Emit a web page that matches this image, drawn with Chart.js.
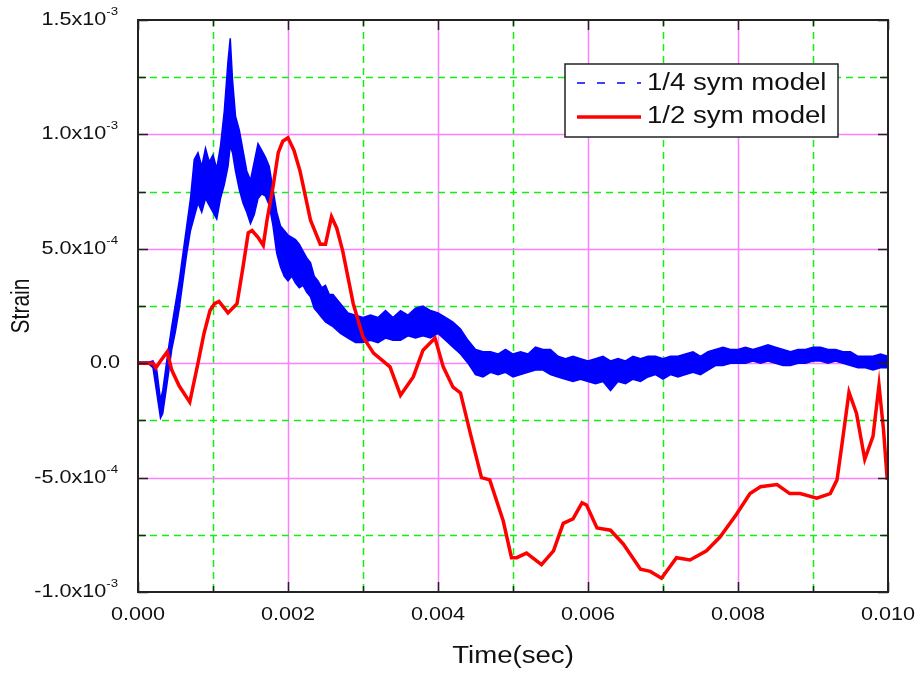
<!DOCTYPE html>
<html lang="en">
<head>
<meta charset="UTF-8" />
<title>Strain vs time</title>
<script src="https://cdn.jsdelivr.net/npm/chart.js"></script>
<style>
  html, body { margin: 0; padding: 0; background: #fff; }
  canvas { display: block; }
</style>
</head>
<body>
<canvas id="strainChart" width="917" height="676"></canvas>
<script>
// time in ms, strain in units of 1e-4
const MS = 1e-3;
const UNIT = 1e-4;

// 1/4 sym model: very noisy trace, kept as upper / lower edge of the band
const quarterTime = [0, 0.15, 0.20, 0.25, 0.30, 0.33, 0.40, 0.45, 0.50, 0.55, 0.60, 0.65, 0.70, 0.75, 0.80, 0.85, 0.90, 0.95, 1.00, 1.05,
  1.10, 1.15, 1.20, 1.23, 1.26, 1.30, 1.35, 1.40, 1.45, 1.50, 1.55, 1.60, 1.65, 1.70, 1.75, 1.80, 1.85, 1.90, 1.95, 2.00,
  2.05, 2.10, 2.15, 2.20, 2.25, 2.30, 2.35, 2.40, 2.45, 2.50, 2.55, 2.60, 2.70, 2.80, 2.90, 3.00, 3.10, 3.20, 3.30, 3.40,
  3.50, 3.60, 3.70, 3.80, 3.90, 4.00, 4.10, 4.20, 4.30, 4.40, 4.50, 4.60, 4.70, 4.80, 4.90, 5.00, 5.10, 5.20, 5.30, 5.40,
  5.50, 5.60, 5.70, 5.80, 5.90, 6.00, 6.10, 6.20, 6.30, 6.40, 6.50, 6.60, 6.70, 6.80, 6.90, 7.00, 7.10, 7.20, 7.30, 7.40,
  7.50, 7.60, 7.70, 7.80, 7.90, 8.00, 8.10, 8.20, 8.30, 8.40, 8.50, 8.60, 8.70, 8.80, 8.90, 9.00, 9.10, 9.20, 9.30, 9.40,
  9.50, 9.60, 9.70, 9.80, 9.90, 10.0];
const quarterHigh = [0.05, 0.05, 0.1, -0.3, -1.6, -1.2, 0.5, 1.6, 2.6, 3.6, 4.8, 6.0, 7.2, 8.9, 9.2, 8.6, 9.4, 8.8, 9.1, 8.5,
  9.5, 11.0, 13.2, 14.2, 12.4, 10.8, 10.2, 9.3, 8.4, 8.0, 8.8, 9.6, 9.3, 9.0, 8.6, 7.6, 6.6, 6.0, 5.8, 5.6,
  5.5, 5.4, 5.2, 4.9, 4.6, 4.4, 3.8, 3.6, 3.3, 3.4, 3.0, 3.0, 2.6, 2.2, 2.1, 2.0, 2.1, 2.0, 2.3, 2.0,
  2.3, 2.1, 2.4, 2.5, 2.3, 2.2, 2.0, 1.8, 1.5, 1.0, 0.6, 0.5, 0.5, 0.4, 0.6, 0.4, 0.5, 0.4, 0.7, 0.6,
  0.6, 0.3, 0.2, 0.3, 0.2, 0.1, 0.2, 0.3, 0.1, 0.2, 0.1, 0.3, 0.2, 0.3, 0.3, 0.2, 0.3, 0.3, 0.4, 0.5,
  0.3, 0.5, 0.6, 0.7, 0.6, 0.6, 0.7, 0.6, 0.7, 0.8, 0.7, 0.6, 0.5, 0.6, 0.6, 0.7, 0.7, 0.6, 0.6, 0.5,
  0.5, 0.3, 0.3, 0.3, 0.4, 0.3];
const quarterLow = [-0.05, -0.05, -0.2, -1.3, -2.4, -2.2, -0.6, 0.6, 1.4, 2.4, 3.6, 4.8, 5.8, 6.4, 7.0, 6.6, 7.2, 6.9, 6.6, 6.3,
  7.2, 7.8, 8.6, 9.5, 9.2, 8.4, 7.6, 7.0, 6.6, 6.1, 6.5, 7.2, 7.4, 7.3, 6.9, 6.0, 4.8, 4.2, 3.8, 3.6,
  3.8, 3.5, 3.3, 3.4, 3.1, 2.9, 2.4, 2.2, 2.0, 1.8, 1.7, 1.6, 1.3, 1.1, 0.9, 0.9, 1.0, 0.9, 1.1, 1.0,
  1.0, 1.2, 1.1, 1.2, 1.1, 1.3, 1.0, 0.7, 0.4, 0.0, -0.5, -0.6, -0.4, -0.5, -0.4, -0.6, -0.5, -0.4, -0.3, -0.3,
  -0.5, -0.6, -0.7, -0.8, -0.7, -0.8, -0.9, -0.8, -1.2, -0.8, -0.9, -0.7, -0.8, -0.6, -0.5, -0.7, -0.5, -0.6, -0.5, -0.4,
  -0.5, -0.3, -0.1, -0.1, 0.0, 0.0, 0.0, 0.1, 0.0, 0.1, 0.0, -0.1, -0.1, 0.0, 0.0, 0.1, 0.1, 0.0, 0.1, 0.0,
  -0.1, -0.2, -0.2, -0.3, -0.2, -0.2];

// 1/2 sym model
const halfTime = [0, 0.20, 0.24, 0.30, 0.39, 0.45, 0.55, 0.69, 0.80, 0.88, 0.96, 1.02, 1.08, 1.20, 1.32, 1.40, 1.47, 1.52, 1.60, 1.67,
  1.72, 1.80, 1.87, 1.93, 2.00, 2.08, 2.16, 2.30, 2.43, 2.50, 2.58, 2.65, 2.73, 2.87, 3.00, 3.14, 3.36, 3.50, 3.67, 3.80,
  3.96, 4.07, 4.20, 4.30, 4.43, 4.58, 4.69, 4.87, 4.98, 5.05, 5.18, 5.38, 5.54, 5.67, 5.80, 5.92, 5.98, 6.12, 6.30, 6.47,
  6.70, 6.83, 6.98, 7.18, 7.36, 7.58, 7.76, 7.98, 8.16, 8.30, 8.52, 8.69, 8.83, 9.05, 9.23, 9.32, 9.38, 9.48, 9.58, 9.69,
  9.80, 9.88, 9.94, 9.99];
const halfStrain = [0, 0, -0.2, 0.1, 0.5, -0.3, -1.0, -1.7, 0.0, 1.3, 2.3, 2.6, 2.7, 2.2, 2.6, 4.2, 5.7, 5.8, 5.5, 5.15,
  6.25, 7.7, 9.2, 9.7, 9.85, 9.3, 8.4, 6.25, 5.2, 5.2, 6.4, 5.9, 4.9, 2.6, 1.15, 0.44, -0.16, -1.4, -0.6, 0.57,
  1.1, -0.16, -1.05, -1.3, -3.06, -5.0, -5.1, -6.9, -8.5, -8.5, -8.3, -8.8, -8.2, -7.0, -6.8, -6.1, -6.2, -7.2, -7.3, -7.9,
  -9.0, -9.1, -9.4, -8.5, -8.6, -8.2, -7.6, -6.6, -5.7, -5.4, -5.3, -5.7, -5.7, -5.9, -5.7, -5.1, -3.7, -1.27, -2.2, -4.2,
  -3.2, -0.96, -2.9, -5.1];

// axis labels
const xTickValues = [0, 0.002, 0.004, 0.006, 0.008, 0.010];
const xTickLabels = ['0.000', '0.002', '0.004', '0.006', '0.008', '0.010'];
const yTickValues = [1.5e-3, 1.0e-3, 5.0e-4, 0, -5.0e-4, -1.0e-3];
const yTickBase = ['1.5x10', '1.0x10', '5.0x10', '0.0', '-5.0x10', '-1.0x10'];
const yTickExp = ['-3', '-3', '-4', '', '-4', '-3'];
const seriesNames = ['1/4 sym model', '1/2 sym model'];

const toPoints = (ts, vs) => ts.map((t, i) => ({ x: t * MS, y: vs[i] * UNIT }));

const FONT = '"Liberation Sans", Arial, sans-serif';
const SX = 1.2; // original picture is a bit wider than tall

function wideText(ctx, text, x, y, size, align) {
  ctx.save();
  ctx.font = size + 'px ' + FONT;
  ctx.textAlign = align;
  ctx.textBaseline = 'middle';
  ctx.translate(x, y);
  ctx.scale(SX, 1);
  ctx.fillText(text, 0, 0);
  ctx.restore();
}

const gridPlugin = {
  id: 'gridPlugin',
  beforeDatasetsDraw(chart) {
    const { ctx, chartArea: a, scales: { x, y } } = chart;
    ctx.save();
    x.ticks.forEach(t => {
      if (t.value <= x.min + 1e-9 || t.value >= x.max - 1e-9) return;
      const major = Math.round(t.value / 0.001) % 2 === 0;
      const px = Math.round(x.getPixelForValue(t.value)) + 0.5;
      ctx.beginPath();
      ctx.lineWidth = 1.5;
      ctx.strokeStyle = major ? '#ff80ff' : '#11f011';
      ctx.setLineDash(major ? [] : [7, 5]);
      ctx.moveTo(px, a.top);
      ctx.lineTo(px, a.bottom);
      ctx.stroke();
    });
    y.ticks.forEach(t => {
      if (t.value <= y.min + 1e-9 || t.value >= y.max - 1e-9) return;
      const major = Math.round(t.value / 2.5e-4) % 2 === 0;
      const py = Math.round(y.getPixelForValue(t.value)) + 0.5;
      ctx.beginPath();
      ctx.lineWidth = 1.5;
      ctx.strokeStyle = major ? '#ff80ff' : '#11f011';
      ctx.setLineDash(major ? [] : [7, 5]);
      ctx.moveTo(a.left, py);
      ctx.lineTo(a.right, py);
      ctx.stroke();
    });
    ctx.restore();
  },
  afterDraw(chart) {
    const { ctx, chartArea: a, scales: { x, y } } = chart;
    ctx.save();
    ctx.strokeStyle = '#222';
    ctx.lineWidth = 1.5;
    ctx.setLineDash([]);
    // inward ticks on all four sides
    x.ticks.forEach(t => {
      const major = Math.round(t.value / 0.001) % 2 === 0;
      const len = major ? 10 : 6;
      const px = Math.round(x.getPixelForValue(t.value)) + 0.5;
      ctx.beginPath();
      ctx.moveTo(px, a.bottom); ctx.lineTo(px, a.bottom - len);
      ctx.moveTo(px, a.top); ctx.lineTo(px, a.top + len);
      ctx.stroke();
    });
    y.ticks.forEach(t => {
      const major = Math.round(t.value / 2.5e-4) % 2 === 0;
      const len = major ? 10 : 8;
      const py = Math.round(y.getPixelForValue(t.value)) + 0.5;
      ctx.beginPath();
      ctx.moveTo(a.left, py); ctx.lineTo(a.left + len, py);
      ctx.moveTo(a.right, py); ctx.lineTo(a.right - len, py);
      ctx.stroke();
    });
    // frame
    ctx.lineWidth = 2;
    ctx.strokeRect(a.left, a.top, a.right - a.left, a.bottom - a.top);

    // tick labels
    ctx.fillStyle = '#111';
    xTickValues.forEach((v, i) => {
      wideText(ctx, xTickLabels[i], x.getPixelForValue(v), a.bottom + 23, 18, 'center');
    });
    yTickValues.forEach((v, i) => {
      const py = y.getPixelForValue(v);
      if (!yTickExp[i]) {
        wideText(ctx, yTickBase[i], a.left - 18, py, 18, 'right');
        return;
      }
      ctx.font = '11px ' + FONT;
      const expW = ctx.measureText(yTickExp[i]).width * SX;
      const right = a.left - 20;
      wideText(ctx, yTickExp[i], right - expW, py - 8, 11, 'left');
      wideText(ctx, yTickBase[i], right - expW, py, 18, 'right');
    });

    // axis titles
    wideText(ctx, 'Time(sec)', (a.left + a.right) / 2, a.bottom + 65, 23, 'center');
    ctx.save();
    ctx.translate(22, (a.top + a.bottom) / 2);
    ctx.rotate(-Math.PI / 2);
    ctx.scale(1, SX);
    ctx.font = '21px ' + FONT;
    ctx.textAlign = 'center';
    ctx.textBaseline = 'middle';
    ctx.fillText('Strain', 0, 0);
    ctx.restore();

    // legend box
    const lx = 565, ly = 64, lw = 273, lh = 73;
    ctx.fillStyle = '#fff';
    ctx.fillRect(lx, ly, lw, lh);
    ctx.lineWidth = 1.5;
    ctx.strokeStyle = '#222';
    ctx.strokeRect(lx, ly, lw, lh);
    ctx.beginPath();
    ctx.strokeStyle = '#0000ff';
    ctx.lineWidth = 1.5;
    ctx.setLineDash([8, 12]);
    ctx.moveTo(577, 83); ctx.lineTo(641, 83);
    ctx.stroke();
    ctx.beginPath();
    ctx.setLineDash([]);
    ctx.strokeStyle = '#ff0000';
    ctx.lineWidth = 3.5;
    ctx.moveTo(577, 117); ctx.lineTo(641, 117);
    ctx.stroke();
    ctx.fillStyle = '#111';
    wideText(ctx, seriesNames[0], 647, 84, 23, 'left');
    wideText(ctx, seriesNames[1], 647, 117, 23, 'left');
    ctx.restore();
  }
};

new Chart(document.getElementById('strainChart'), {
  type: 'scatter',
  data: {
    datasets: [
      {
        label: seriesNames[0],
        data: toPoints(quarterTime, quarterHigh),
        showLine: true,
        borderColor: '#0000ff',
        borderWidth: 1.5,
        pointRadius: 0,
        fill: false,
        order: 2
      },
      {
        label: seriesNames[0] + ' (band)',
        data: toPoints(quarterTime, quarterLow),
        showLine: true,
        borderColor: '#0000ff',
        backgroundColor: '#0000ff',
        borderWidth: 1.5,
        pointRadius: 0,
        fill: '-1',
        order: 2
      },
      {
        label: seriesNames[1],
        data: toPoints(halfTime, halfStrain),
        showLine: true,
        borderColor: '#ff0000',
        borderWidth: 3.5,
        pointRadius: 0,
        fill: false,
        order: 1
      }
    ]
  },
  options: {
    responsive: false,
    animation: false,
    devicePixelRatio: 1,
    layout: { padding: { left: 138, top: 20, right: 29, bottom: 84 } },
    plugins: {
      legend: { display: false },
      tooltip: { enabled: false }
    },
    scales: {
      x: {
        type: 'linear',
        min: 0,
        max: 0.01,
        ticks: { display: false, stepSize: 0.001 },
        grid: { display: false, drawTicks: false },
        border: { display: false }
      },
      y: {
        type: 'linear',
        min: -1.0e-3,
        max: 1.5e-3,
        ticks: { display: false, stepSize: 2.5e-4 },
        grid: { display: false, drawTicks: false },
        border: { display: false }
      }
    }
  },
  plugins: [gridPlugin]
});
</script>
</body>
</html>
